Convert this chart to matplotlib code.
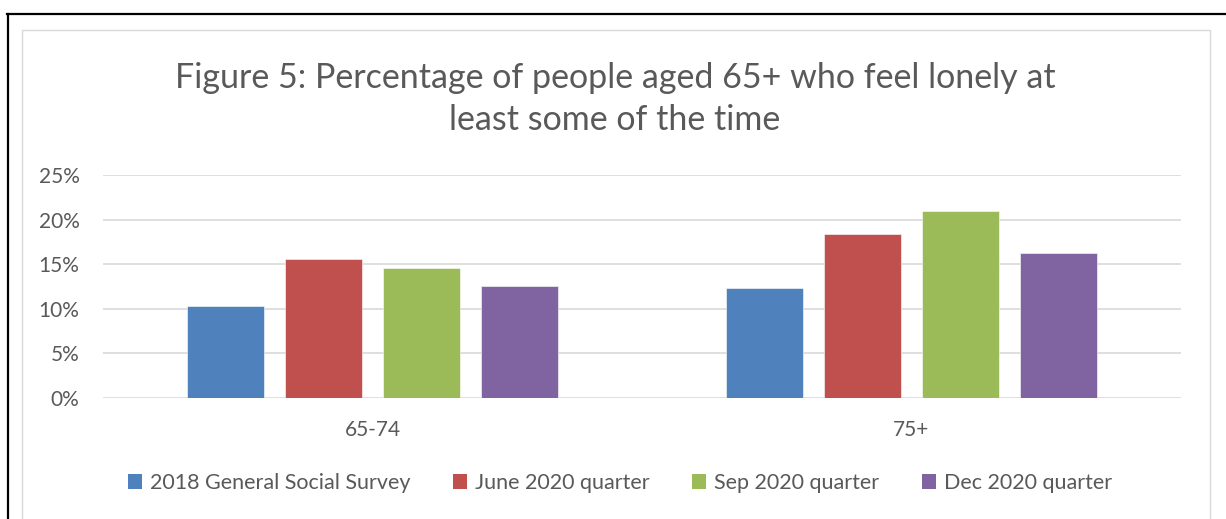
import numpy as np
import matplotlib
matplotlib.use('Agg')
import matplotlib.pyplot as plt
from matplotlib.patches import Patch, Rectangle
from matplotlib.lines import Line2D

# data
kategorie = ['65-74', '75+']
serie = ['2018 General Social Survey', 'June 2020 quarter', 'Sep 2020 quarter', 'Dec 2020 quarter']
wartosci = [
    [0.103, 0.123],
    [0.156, 0.184],
    [0.146, 0.210],
    [0.126, 0.163],
]
kolory = ['#4F81BD', '#C0504D', '#9BBB59', '#8064A2']
yticks = [0, 0.05, 0.10, 0.15, 0.20, 0.25]

plt.rcParams['font.family'] = ['Lato', 'DejaVu Sans']
szary = '#595959'

W, H = 1226, 519
fig = plt.figure(figsize=(W / 100, H / 100), dpi=100)

# ramki: czarna zewnetrzna i szara wewnetrzna
fig.add_artist(Line2D([7 / W, 1], [1 - 14 / H, 1 - 14 / H], color='black', lw=1.6, transform=fig.transFigure))
fig.add_artist(Line2D([7.5 / W, 7.5 / W], [0, 1 - 14 / H], color='black', lw=1.6, transform=fig.transFigure))
fig.add_artist(Rectangle((21.5 / W, -0.1), (1210 - 21.5) / W, 0.1 + 1 - 30 / H, fill=False,
                         edgecolor='#D9D9D9', lw=1.0, transform=fig.transFigure))

ax = fig.add_axes([103 / W, (H - 398) / H, (1181 - 103) / W, (398 - 175) / H])

x = np.arange(len(kategorie))
szer = 77 / 539
krok = 98 / 539
for i, (nazwa, vals) in enumerate(zip(serie, wartosci)):
    ax.bar(x + (i - 1.5) * krok, vals, width=szer, color=kolory[i], label=nazwa,
           edgecolor='white', linewidth=0.4, zorder=3)

ax.set_xlim(-0.5, 1.5)
ax.set_ylim(0, 0.25)
ax.set_yticks(yticks)
ax.set_yticklabels([f'{int(round(t * 100))}%' for t in yticks])
ax.set_xticks(x)
ax.set_xticklabels(kategorie)
ax.grid(axis='y', color='#D9D9D9', lw=1.2, zorder=0)
for s in ax.spines.values():
    s.set_visible(False)
ax.tick_params(axis='both', length=0, colors=szary, labelsize=15)
ax.tick_params(axis='y', pad=17)
ax.tick_params(axis='x', pad=16)

fig.text(615 / W, 1 - 99 / H, 'Figure 5: Percentage of people aged 65+ who feel lonely at\nleast some of the time',
         ha='center', va='center', fontsize=24.5, color=szary, linespacing=1.42)

uchwyty = [Patch(facecolor=k, edgecolor='none') for k in kolory]
fig.legend(uchwyty, serie, loc='center', bbox_to_anchor=(620 / W, 1 - 483 / H), ncol=4, frameon=False,
           fontsize=15.5, labelcolor=szary, handlelength=0.65, handleheight=0.65, handletextpad=0.35,
           columnspacing=2.0)

fig.savefig('out.png', dpi=100)
